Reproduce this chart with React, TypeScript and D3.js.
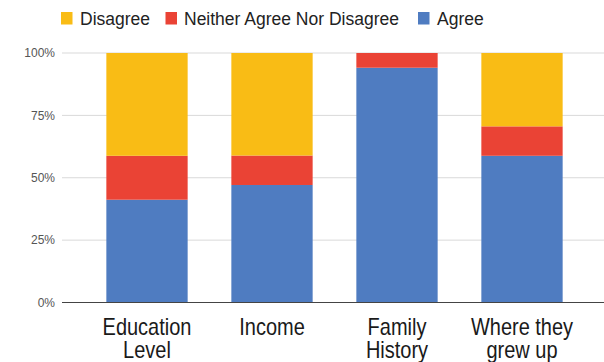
import React from "react";
import * as d3 from "d3";

const categories: string[][] = [
  ["Education", "Level"],
  ["Income"],
  ["Family", "History"],
  ["Where they", "grew up"],
];
const agree = [41.2, 47.1, 94.1, 58.8];
const neither = [17.6, 11.8, 5.9, 11.8];
const disagree = [41.2, 41.1, 0, 29.4];
const seriesNames = ["Disagree", "Neither Agree Nor Disagree", "Agree"];
const seriesColors = ["#f9bc15", "#ea4335", "#4f7cc1"];
const yTicks = [0, 25, 50, 75, 100];

export default function App() {
  const W = 604;
  const H = 362;
  const x = d3
    .scaleBand<number>()
    .domain(d3.range(categories.length))
    .range([84.5, 584.5])
    .paddingInner(0.35)
    .paddingOuter(0.175);
  const y = d3.scaleLinear().domain([0, 100]).range([302.5, 53]);

  const rows = categories.map((_, i) => ({
    i,
    Agree: agree[i],
    Neither: neither[i],
    Disagree: disagree[i],
  }));
  const stack = d3.stack<any>().keys(["Agree", "Neither", "Disagree"]);
  const stacked = stack(rows);
  const colorFor: Record<string, string> = {
    Agree: seriesColors[2],
    Neither: seriesColors[1],
    Disagree: seriesColors[0],
  };

  const legendX = [61, 165.5, 418];
  const legendTextX = [80, 184, 437];

  // recompute band so bars land at the measured positions
  const bw = 81.3;
  const centers = categories.map((_, i) => x(i)! + x.bandwidth() / 2);

  return (
    <svg
      width={W}
      height={H}
      style={{ position: "absolute", left: 0, top: 0, background: "#fff" }}
      fontFamily="'Liberation Sans', Arial, sans-serif"
    >
      <rect width={W} height={H} fill="#fff" />
      {yTicks.map((t) => (
        <g key={t}>
          {t !== 0 && (
            <line x1={62} x2={W} y1={y(t)} y2={y(t)} stroke="#d9d9d9" strokeWidth={1} />
          )}
          <text
            x={55}
            y={y(t)}
            dy="0.35em"
            textAnchor="end"
            fontSize={12}
            fill="#555"
          >
            {t}%
          </text>
        </g>
      ))}
      {stacked.map((s) => (
        <g key={s.key} fill={colorFor[s.key]}>
          {s.map((d, i) =>
            d[1] - d[0] > 0 ? (
              <rect
                key={i}
                x={centers[i] - bw / 2}
                width={bw}
                y={y(d[1])}
                height={y(d[0]) - y(d[1])}
              />
            ) : null
          )}
        </g>
      ))}
      <line x1={62} x2={W} y1={y(0)} y2={y(0)} stroke="#444" strokeWidth={1.2} />
      {categories.map((lines, i) => (
        <g key={i} transform={`translate(${centers[i]},0) scale(1,1.17)`}>
          {lines.map((ln, j) => (
            <text
              key={j}
              x={0}
              y={(335 + j * 23.3) / 1.17}
              textAnchor="middle"
              fontSize={20}
              fill="#1a1a1a"
            >
              {ln}
            </text>
          ))}
        </g>
      ))}
      {seriesNames.map((n, i) => (
        <g key={n}>
          <rect x={legendX[i]} y={12} width={11.5} height={12.5} fill={seriesColors[i]} />
          <text x={legendTextX[i]} y={24.5} fontSize={17.5} fill="#222">
            {n}
          </text>
        </g>
      ))}
    </svg>
  );
}
